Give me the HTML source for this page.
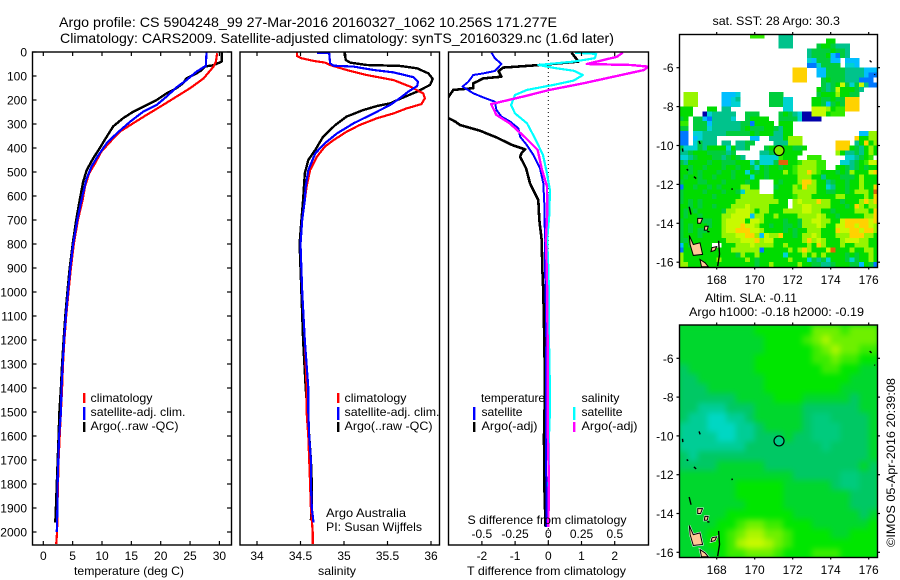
<!DOCTYPE html>
<html lang="en">
<head>
<meta charset="utf-8">
<title>Argo profile CS 5904248_99</title>
<style>
html,body{margin:0;padding:0;background:#fff;width:900px;height:580px;overflow:hidden}
svg{display:block}
text{font-family:"Liberation Sans",sans-serif;font-size:12px;fill:#000}
</style>
</head>
<body>
<svg id="fig" xmlns="http://www.w3.org/2000/svg" width="900" height="580" viewBox="0 0 900 580">
<defs>
<clipPath id="clipT"><rect x="32.5" y="52" width="199" height="493"/></clipPath>
<clipPath id="clipS"><rect x="240" y="52" width="199.5" height="493"/></clipPath>
<clipPath id="clipD"><rect x="448.5" y="52" width="200" height="493"/></clipPath>
<clipPath id="clipM1"><rect x="679.5" y="34.5" width="198" height="233"/></clipPath>
<clipPath id="clipM2"><rect x="679.5" y="325" width="198" height="232.5"/></clipPath>
<filter id="smooth" x="-5%" y="-5%" width="110%" height="110%" color-interpolation-filters="sRGB"><feGaussianBlur stdDeviation="3"/></filter>
</defs>

<text x="59" y="27" style="font-size:14px" textLength="498" lengthAdjust="spacingAndGlyphs">Argo profile: CS 5904248_99 27-Mar-2016 20160327_1062 10.256S 171.277E</text>
<text x="60" y="43" style="font-size:14px" textLength="554" lengthAdjust="spacingAndGlyphs">Climatology: CARS2009. Satellite-adjusted climatology: synTS_20160329.nc (1.6d later)</text>

<g id="map1"></g>
<g id="map2"></g>
<g id="panelT"></g>
<g id="panelS"></g>
<g id="panelD"></g>

<text x="74" y="575" textLength="110" lengthAdjust="spacingAndGlyphs">temperature (deg C)</text>
<text x="318" y="575" textLength="38" lengthAdjust="spacingAndGlyphs">salinity</text>
<text x="467" y="575" textLength="159" lengthAdjust="spacingAndGlyphs">T difference from climatology</text>
<text x="467.5" y="524" textLength="159" lengthAdjust="spacingAndGlyphs">S difference from climatology</text>

<g>
<rect x="83" y="393" width="2.4" height="10" fill="#ff0000"/>
<rect x="83" y="407" width="2.4" height="13" fill="#0000ff"/>
<rect x="83" y="422" width="2.4" height="10" fill="#000"/>
<text x="90.5" y="402" textLength="62" lengthAdjust="spacingAndGlyphs">climatology</text>
<text x="90.5" y="416" textLength="95" lengthAdjust="spacingAndGlyphs">satellite-adj. clim.</text>
<text x="90.5" y="430" textLength="88" lengthAdjust="spacingAndGlyphs">Argo(..raw -QC)</text>
</g>
<g>
<rect x="337" y="393" width="2.4" height="10" fill="#ff0000"/>
<rect x="337" y="407" width="2.4" height="13" fill="#0000ff"/>
<rect x="337" y="422" width="2.4" height="10" fill="#000"/>
<text x="344.5" y="402" textLength="62" lengthAdjust="spacingAndGlyphs">climatology</text>
<text x="344.5" y="416" textLength="95" lengthAdjust="spacingAndGlyphs">satellite-adj. clim.</text>
<text x="344.5" y="430" textLength="88" lengthAdjust="spacingAndGlyphs">Argo(..raw -QC)</text>
<text x="326" y="517" textLength="80" lengthAdjust="spacingAndGlyphs">Argo Australia</text>
<text x="326" y="531" textLength="96" lengthAdjust="spacingAndGlyphs">PI: Susan Wijffels</text>
</g>
<g>
<rect x="473" y="407" width="2.4" height="13" fill="#0000ff"/>
<rect x="473" y="422" width="2.4" height="10" fill="#000"/>
<rect x="573" y="407" width="2.4" height="13" fill="#00ffff"/>
<rect x="573" y="422" width="2.4" height="10" fill="#ff00ff"/>
<text x="481" y="402" textLength="64" lengthAdjust="spacingAndGlyphs">temperature</text>
<text x="481.5" y="416" textLength="41" lengthAdjust="spacingAndGlyphs">satellite</text>
<text x="481.5" y="430" textLength="56" lengthAdjust="spacingAndGlyphs">Argo(-adj)</text>
<text x="581.5" y="402" textLength="38" lengthAdjust="spacingAndGlyphs">salinity</text>
<text x="581.5" y="416" textLength="41" lengthAdjust="spacingAndGlyphs">satellite</text>
<text x="581.5" y="430" textLength="56" lengthAdjust="spacingAndGlyphs">Argo(-adj)</text>
</g>

<text x="712.5" y="25" textLength="127.5" lengthAdjust="spacingAndGlyphs">sat. SST: 28 Argo: 30.3</text>
<text x="705" y="302" textLength="92" lengthAdjust="spacingAndGlyphs">Altim. SLA: -0.11</text>
<text x="689" y="316" textLength="175" lengthAdjust="spacingAndGlyphs">Argo h1000: -0.18 h2000: -0.19</text>
<text transform="translate(895,547) rotate(-90)" x="0" y="0" textLength="169" lengthAdjust="spacingAndGlyphs">©IMOS 05-Apr-2016 20:39:08</text>
</svg>

<script>
// ---------- chart data ----------
const depthTicks = [0,100,200,300,400,500,600,700,800,900,1000,1100,1200,1300,1400,1500,1600,1700,1800,1900,2000];
const tempTicks = [0,5,10,15,20,25,30];
const salTicks = [34,34.5,35,35.5,36];
const salTickLabels = ['34','34.5','35','35.5','36'];
const tDiffTicks = [-2,-1,0,1,2];
const sDiffTicks = [-0.5,-0.25,0,0.25,0.5];
const sDiffTickLabels = ['-0.5','-0.25','0','0.25','0.5'];
const lonTicks = [168,170,172,174,176];
const latTicks1 = [-6,-8,-10,-12,-14,-16];

const tempClimDepth = [5,40,61,110,151,186,221,262,297,331,374,415,464,506,561,617,700,800,900,1000,1100,1200,1300,1400,1500,1600,1700,1800,1900,2000,2050];
const tempClimVal = [29.6,29.4,29,27.3,25,22.7,20.4,17.6,15.3,13.1,11.4,9.9,8.8,7.8,7.1,6.7,5.9,5.2,4.7,4.3,3.9,3.6,3.35,3.2,3.0,2.8,2.6,2.5,2.4,2.35,2.2];
const tempSatDepth = [3,50,57,82,117,147,186,221,249,290,339,380,429,478,533,617,700,800,900,1000,1100,1200,1300,1400,1500,1600,1700,1800,1900,2000];
const tempSatVal = [27.8,27.7,27.7,26.1,24.4,22.7,21,19.3,17,14.8,12.5,10.8,9.4,8.2,7.3,6.5,5.8,5.1,4.6,4.2,3.85,3.55,3.3,3.1,3.0,2.7,2.55,2.44,2.4,2.3];
const tempArgoDepth = [0,40,55,61,75,89,110,130,151,172,200,221,249,276,310,353,401,443,492,540,617,700,800,900,1000,1100,1200,1300,1400,1500,1600,1700,1800,1900,1960];
const tempArgoVal = [30.4,30.4,29,27.5,27,26.1,24.4,23.8,22.7,21,19.3,17.6,15.3,13.6,11.9,10.8,9.6,8.5,7.4,6.8,6.2,5.6,5,4.5,4.1,3.75,3.45,3.2,3,2.75,2.6,2.45,2.3,2.15,2.05];

const salClimDepth = [3,17,26,37,44,54,75,96,117,144,172,193,217,235,256,276,304,332,367,394,436,492,561,617,700,800,1000,1200,1400,1500,1600,1700,1800,1900,2000,2050];
const salClimVal = [34.46,34.46,34.51,34.65,34.78,34.84,35.03,35.26,35.57,35.76,35.91,35.93,35.89,35.72,35.57,35.38,35.18,35.03,34.88,34.78,34.69,34.61,34.57,34.55,34.52,34.5,34.52,34.55,34.57,34.57,34.59,34.6,34.61,34.62,34.64,34.64];
const salSatDepth = [3,5,47,57,61,75,85,105,124,142,165,193,221,256,297,339,380,422,492,561,617,700,800,1000,1200,1400,1500,1600,1700,1800,1900,1960];
const salSatVal = [34.69,34.83,34.84,34.88,35.11,35.34,35.57,35.8,35.85,35.84,35.74,35.64,35.53,35.34,35.11,34.92,34.78,34.67,34.59,34.56,34.55,34.52,34.5,34.52,34.55,34.59,34.59,34.6,34.62,34.62,34.63,34.65];
const salArgoDepth = [3,33,44,54,58,68,89,112,137,165,196,214,225,242,269,304,353,408,450,506,617,700,800,1000,1200,1400,1500,1600,1700,1800,1900,1950];
const salArgoVal = [35.01,35.02,35.07,35.26,35.64,35.84,35.97,36.02,35.99,35.84,35.64,35.53,35.38,35.22,35.03,34.9,34.76,34.67,34.59,34.55,34.53,34.51,34.49,34.51,34.53,34.56,34.58,34.6,34.62,34.63,34.63,34.62];

const dTSatDepth = [3,26,50,79,89,96,124,144,172,189,207,242,269,290,318,353,387,429,485,547,631,783,900,1000,1200,1400,1600,1800,1980];
const dTSatVal = [-1.71,-1.61,-1.41,-1.61,-1.96,-2.26,-2.41,-2.58,-2.26,-1.96,-1.61,-1.56,-1.41,-1.15,-0.9,-0.85,-0.65,-0.45,-0.25,-0.15,-0.12,-0.1,-0.1,-0.08,-0.06,-0.07,-0.07,-0.06,-0.05];
const dTArgoDepth = [3,33,40,54,65,80,103,110,120,131,151,158,186,230,276,290,304,328,356,387,406,420,436,485,547,617,700,783,900,1000,1200,1400,1600,1800,1980];
const dTArgoVal = [0.7,0.87,0.9,-0.25,-1.36,-1.5,-1.41,-1.96,-2.1,-2.26,-2.26,-2.86,-3,-3.6,-3,-2.8,-2.66,-2.06,-1.56,-1.1,-0.7,-0.8,-0.85,-0.67,-0.55,-0.3,-0.27,-0.2,-0.18,-0.15,-0.12,-0.1,-0.13,-0.12,-0.08];
const dSSatDepth = [3,8,26,40,54,68,78,96,119,137,158,179,221,256,297,360,429,506,575,672,783,900,1000,1200,1400,1500,1600,1800,1980];
const dSSatVal = [0.2,0.36,0.35,0.19,-0.075,0.06,0.19,0.26,0.19,0.04,-0.16,-0.25,-0.28,-0.25,-0.16,-0.1,-0.04,-0.01,0.012,0.008,-0.008,0,0.005,0.005,0.012,0.012,0.005,0.002,0];
const dSArgoDepth = [3,20,50,54,61,75,103,131,158,186,217,262,297,353,408,485,561,672,783,900,1000,1200,1400,1600,1800,1980];
const dSArgoVal = [0.56,0.515,0.29,0.62,0.75,0.72,0.49,0.26,0.01,-0.19,-0.43,-0.39,-0.29,-0.18,-0.08,-0.05,-0.01,-0.008,-0.018,-0.012,-0.008,-0.005,-0.005,-0.003,0.005,0];

// SST heat-map, one letter per 0.25 degree cell
const sstRows = [
"...............lll...sss..................",
".....................sss.......GG.........",
".....................sss.....gGGgsss......",
"...........................sggggGggs......",
"...........................sgggGcBgs......",
"...........................tcgggcc.ccc....",
"...........................BBtgggg.ttc....",
"........................ooo..ccggggssssccc",
"........................ooo..ccggggsssscBB",
"........................ooo...gGgggsssBBB",
"..............................gsgGYgtgYsBB",
".............................GgsgYGGGgs...",
".yyy.....ccct......ggg.......gGGGyGGgg....",
".yyy.....ccts......gggtt....GGggGggooo....",
".yyy.....cctt......gggtt....GGgcgGgooo....",
"GGG...GG.ss...........tt....YYYyGllooo....",
"GGG..btsssss..ggg....gGgstbbYYYGlll.......",
"gG.ggcBsssst..gGGGG..ggggtbbbb............",
"ll.gggcssssssggBGGGG.GGG..................",
"gg.gggtssssssgGgggGGgsGG..................",
"BB.ttsssssgggggGgGGGssGG..............ccyy",
"BB.ctsss.......cc..sssGyyy...........oGGyy",
"BB.tgsss.ss.ssgg....sssyyy.......ooo.sGoGy",
"gtttgsGGGGtGssg...gGGGGGggG......oooGgsGyG",
"ssgGGGggggsg.....ssggGGGGG.......yGssgsGyG",
"ttsgGGGggsgGgs...ttttlGGG..lll.....ttsgGl",
"gsGGGGgGGgggGGGtgtttgrrGGlyyyll...ttsgGlYY",
"GGgGGgGGGgGGgGGgtGgGGgGGlyyyyll..GGgsgGgGG",
"GGgGgGGGgGGgGGtGgGgGGGyGlyyoylGGGgGgyGGGYo",
"GgGGgGGgGGGgGGGtGGgGGGGGGyyyGGsGGGgggGyGGG",
"gGGGggGGGgGGGGgGG...GgGGGyooyGGsgGGgGGyGGG",
"BGGgGGgGgGGGGyyGG...gGGGyloyyGGtsGGgGGyGGo",
"gGGGGgGGGgGGgtyyy...GGGGyyyyyGGggGGgGyyyGr",
"gGGGGGGgGGGGGyyyyyyyGGGGlyyyGGGGGyyGGGGyGo",
"gGgGgGGGGGGGyyyyyyyyyGG.yYyyyoyyGGgGGGyoyo",
"GGgGgGGgGGGyyyYyyyyGGGG.yyYYyyyyGGGgGoyGyy",
"GgGgGGGGGgyyYYYyGyyGGGyyyyYYyyGGgGGGGyyyGo",
"GgGGgGGGGyyYYYYcyyGGyGGGGyyyyYyGGgGGGGGyyo",
"gGGGGggGGyYYYYGYYyGGGGgGGgyyYYyyGGYoooooYo",
"gGgGGGgGGyYYYoYYyGGgGGggGgyyyYyGGYYooYooYy",
"gGgGggGGGyYYoooYYyGGGGgGgGGyyyGGGoYYooYooy",
"gGGGgGGGGyyyYYooycYyyoGGgGyyYyGGGyyyoooyyG",
"ggGGGGGGGGyyyYYYoyYYGGGGGGyoyYyGGGyYYYyyGG",
"cGgGGGG..GGGyyyYyyyyGGyGGGGyGoyGGGyGGyyyGG",
"BGGGGGGGGGGyyyyyyBGGGGGyGyoyGGGYrGGGyGGyyG",
"yGGGGGGGGGGGgyGGyGGGGGtGGGyGyGyGGGGgGgGGyG",
"yGGGGGGGyGGGGGyGgGGGGGGyGGGtgsgtGGGgtgGGyG",
"yyGGGGGGGGGGGGGGgGGyGGGGGyGGggssgGGGggcGgB"
];
// Sea level anomaly heat-map, one letter per 0.5 degree cell
const slaRows = [
"ddddddddeeeeeehhhfhhh",
"dddddddddeeeefhihhhhh",
"dddddddddeeeeefhihhff",
"ddddddddeeeeeeffhffee",
"cdddddddeeeeeeeffeedd",
"ccdddddddeeeeeeeeeddd",
"cccddddddeeeeeeeedddd",
"ccccccddddeeedddddcdd",
"ccbbbcccdddddccccccdd",
"cbbaabbcdddddckkccccd",
"bbbaaabbcddddckkkcccd",
"bbbbaabbcccdcckkkcccd",
"bbbbbbbcccccccckccccd",
"cbccccccccccccccccccd",
"ccccdddddccccccccccdc",
"ddddddddddddccccckkcc",
"ddddddeeeeedddddckkcc",
"ddddddeeeeedddddddccc",
"dddddddeeeedddddddccc",
"dddddeeeeeeedddddddcd",
"ddddeefhhffeeedddddde",
"dddeefhiihhfeeeeddeee",
"dddeefijjihfeeeeeeeee",
"ddddeffhhhfeeefffeeee"
];
const profileLon = [171.28];
const profileLat = [-10.26];

// land polygons in lon / lat
const landLon = [
 [166.56,166.77,167.12,167.26,166.77,166.6],
 [167.12,167.39,167.56,167.2],
 [167.75,168,167.9,167.7],
 [167.38,167.55,167.5,167.35],
 [167.0,167.25,167.15,167.0]
];
const landLat = [
 [-14.62,-15.09,-15.0,-15.6,-15.65,-15.09],
 [-15.86,-16.03,-16.23,-16.23],
 [-15.25,-15.2,-15.4,-15.45],
 [-14.15,-14.15,-14.35,-14.35],
 [-13.75,-13.75,-14.0,-14.0]
];
const reefLon = [[166.55,166.65],[168.1,168.15],[168.15,168.05],[166.42,166.5],[166.8,166.92],[166.2,166.22],[167.07,167.13],[168.8,168.82],[176.05,176.15],[176.3,176.33],[167.5,167.62]];
const reefLat = [[-13.15,-13.55],[-14.9,-15.6],[-15.6,-16.2],[-11.22,-11.28],[-11.6,-11.7],[-10.15,-10.32],[-9.77,-9.92],[-12.2,-12.28],[-5.63,-5.72],[-6.33,-6.37],[-14.42,-14.44]];

const sstColors = {b:'#0000aa',B:'#0078ff',c:'#00beff',t:'#00d2d2',s:'#00c38c',g:'#00cd3c',G:'#00dc00',l:'#32eb00',y:'#96f500',Y:'#c8fa00',o:'#ffd200',r:'#dc640a'};
const slaColors = {a:'#00d7c3',b:'#00cd96',k:'#00cb7d',c:'#00c864',d:'#00d72d',e:'#00e600',f:'#3ceb00',h:'#6ef000',i:'#aaf500',j:'#c8fa00'};

// ---------- axis functions ----------
const NS = 'http://www.w3.org/2000/svg';
const yDepth = d => 52 + 0.24 * d;
const xTemp = t => 43.3 + 5.87 * t;
const xSal = s => 257 + 87 * (s - 34);
const xDT = t => 548.3 + 33.2 * t;
const xDS = s => 548.3 + 133 * s;
const xLon = lon => 716.7 + 19 * (lon - 168);
const yLat1 = lat => 67.7 + 19.45 * (-6 - lat);
const yLat2 = lat => 358.3 + 19.4 * (-6 - lat);

function mk(tag, parent, attrs, txt) {
  const el = document.createElementNS(NS, tag);
  for (const k in attrs) el.setAttribute(k, attrs[k]);
  if (txt !== undefined) el.textContent = txt;
  parent.appendChild(el);
  return el;
}
function tickLine(parent, x1, y1, x2, y2) {
  const el = mk('line', parent, {x1:x1, y1:y1, x2:x2, y2:y2, stroke:'#000', 'stroke-width':1.2});
  
  
  return el;
}
function tickText(parent, x, y, anchor, s) {
  const el = mk('text', parent, {x:x, y:y, 'text-anchor':anchor}, s);
  
  
  return el;
}
function frame(parent, x, y, w, h) {
  const el = mk('rect', parent, {x:x, y:y, width:w, height:h, fill:'none', stroke:'#000', 'stroke-width':1.4});
  
  
  return el;
}
function curve(parent, name, clip, xf, depth, vals, color, w) {
  const pts = vals.map((v, i) => xf(v).toFixed(1) + ',' + yDepth(depth[i]).toFixed(1)).join(' ');
  const el = mk('polyline', parent, {points:pts, fill:'none', stroke:color, 'stroke-width':w, 'clip-path':'url(#' + clip + ')', 'stroke-linejoin':'round', 'shape-rendering':'crispEdges'});
  
  
  return el;
}

// ---------- temperature panel ----------
const pT = document.getElementById('panelT');
curve(pT, 'temperature-argo-line', 'clipT', xTemp, tempArgoDepth, tempArgoVal, '#000', 2.4);
curve(pT, 'temperature-climatology-line', 'clipT', xTemp, tempClimDepth, tempClimVal, '#ff0000', 2.2);
curve(pT, 'temperature-satellite-line', 'clipT', xTemp, tempSatDepth, tempSatVal, '#0000ff', 2.2);
frame(pT, 32.5, 52, 199, 493);
depthTicks.forEach(d => {
  tickLine(pT, 32.5, yDepth(d), 36.5, yDepth(d));
  tickLine(pT, 227, yDepth(d), 231.5, yDepth(d));
  tickText(pT, 27, yDepth(d) + 4.5, 'end', String(d));
});
tempTicks.forEach(t => {
  tickLine(pT, xTemp(t), 52, xTemp(t), 56);
  tickLine(pT, xTemp(t), 541, xTemp(t), 545);
  tickText(pT, xTemp(t), 560, 'middle', String(t));
});

// ---------- salinity panel ----------
const pS = document.getElementById('panelS');
curve(pS, 'salinity-argo-line', 'clipS', xSal, salArgoDepth, salArgoVal, '#000', 2.4);
curve(pS, 'salinity-climatology-line', 'clipS', xSal, salClimDepth, salClimVal, '#ff0000', 2.2);
curve(pS, 'salinity-satellite-line', 'clipS', xSal, salSatDepth, salSatVal, '#0000ff', 2.2);
frame(pS, 240, 52, 199.5, 493);
salTicks.forEach((s, i) => {
  tickLine(pS, xSal(s), 52, xSal(s), 56);
  tickLine(pS, xSal(s), 541, xSal(s), 545);
  tickText(pS, xSal(s), 560, 'middle', salTickLabels[i]);
});

// ---------- difference panel ----------
const pD = document.getElementById('panelD');
const zeroLine = mk('line', pD, {x1:xDT(0), y1:52, x2:xDT(0), y2:545, stroke:'#000', 'stroke-width':1, 'stroke-dasharray':'1 3'});


curve(pD, 't-difference-argo-line', 'clipD', xDT, dTArgoDepth, dTArgoVal, '#000', 2.6);
curve(pD, 't-difference-satellite-line', 'clipD', xDT, dTSatDepth, dTSatVal, '#0000ff', 2);
curve(pD, 's-difference-satellite-line', 'clipD', xDS, dSSatDepth, dSSatVal, '#00ffff', 2.2);
curve(pD, 's-difference-argo-line', 'clipD', xDS, dSArgoDepth, dSArgoVal, '#ff00ff', 2.4);
frame(pD, 448.5, 52, 200, 493);
tDiffTicks.forEach(t => {
  tickLine(pD, xDT(t), 52, xDT(t), 56);
  tickLine(pD, xDT(t), 541, xDT(t), 545);
  tickText(pD, xDT(t), 560, 'middle', String(t));
});
sDiffTicks.forEach((s, i) => {
  tickText(pD, xDS(s), 538, 'middle', sDiffTickLabels[i]);
});

// ---------- maps ----------
function drawLand(g, yLat, halo) {
  landLon.forEach((lons, i) => {
    const pts = lons.map((lon, j) => xLon(lon).toFixed(1) + ',' + yLat(landLat[i][j]).toFixed(1)).join(' ');
    if (halo) {
      const h = mk('polygon', g, {points:pts, fill:'#fff', stroke:'#fff', 'stroke-width':2});
      
      
    }
    const p = mk('polygon', g, {points:pts, fill:'#ffc896', stroke:'#000', 'stroke-width':1});
    
    
  });
  reefLon.forEach((lons, i) => {
    const r = mk('line', g, {x1:xLon(lons[0]), y1:yLat(reefLat[i][0]), x2:xLon(lons[1]), y2:yLat(reefLat[i][1]), stroke:'#000', 'stroke-width':1.4});
    
    
  });
}
function mapAxes(g, yLat, top, bottom, labelY) {
  frame(g, 679.5, top, 198, bottom - top);
  lonTicks.forEach(lon => {
    tickLine(g, xLon(lon), top - 2.5, xLon(lon), top);
    tickLine(g, xLon(lon), bottom, xLon(lon), bottom + 2);
    tickText(g, xLon(lon), labelY, 'middle', String(lon));
  });
  latTicks1.forEach(lat => {
    tickLine(g, 676.5, yLat(lat), 679.5, yLat(lat));
    tickLine(g, 877.5, yLat(lat), 880, yLat(lat));
    tickText(g, 673.5, yLat(lat) + 4.5, 'end', String(lat));
  });
}
function marker(g, yLat, color) {
  profileLon.forEach((lon, i) => {
    const c = mk('circle', g, {cx:xLon(lon), cy:yLat(profileLat[i]), r:5, fill:color, stroke:'#000', 'stroke-width':1.2});
    
    
  });
}

const m1 = document.getElementById('map1');
const m1c = mk('g', m1, {'clip-path':'url(#clipM1)', 'shape-rendering':'crispEdges'});


sstRows.forEach((row, i) => {
  for (let j = 0; j < row.length; j++) {
    const col = sstColors[row[j]];
    if (!col) continue;
    const lonW = 166 + j * 0.25, latN = -4.25 - i * 0.25;
    const cell = mk('rect', m1c, {x:xLon(lonW).toFixed(2), y:yLat1(latN).toFixed(2), width:4.95, height:5.06, fill:col});
    
    
  }
});
const m1l = mk('g', m1, {'clip-path':'url(#clipM1)'});


drawLand(m1l, yLat1, false);
marker(m1, yLat1, '#82eb00');
mapAxes(m1, yLat1, 34.5, 267.5, 284);

const m2 = document.getElementById('map2');
const m2c = mk('g', m2, {'clip-path':'url(#clipM2)'});


const m2bg = mk('rect', m2c, {x:679, y:325, width:199, height:233, fill:slaColors.d});


const m2b = mk('g', m2c, {filter:'url(#smooth)'});


slaRows.forEach((row, i) => {
  for (let j = 0; j < row.length; j++) {
    const lonW = 166 + j * 0.5, latN = -4.3 - i * 0.5;
    const cell = mk('rect', m2b, {x:xLon(lonW).toFixed(2), y:yLat2(latN).toFixed(2), width:9.9, height:10.1, fill:slaColors[row[j]]});
    
    
  }
});
const m2l = mk('g', m2, {'clip-path':'url(#clipM2)'});


drawLand(m2l, yLat2, true);
marker(m2, yLat2, '#00cd87');
mapAxes(m2, yLat2, 325, 557.5, 574);
</script>
</body>
</html>
